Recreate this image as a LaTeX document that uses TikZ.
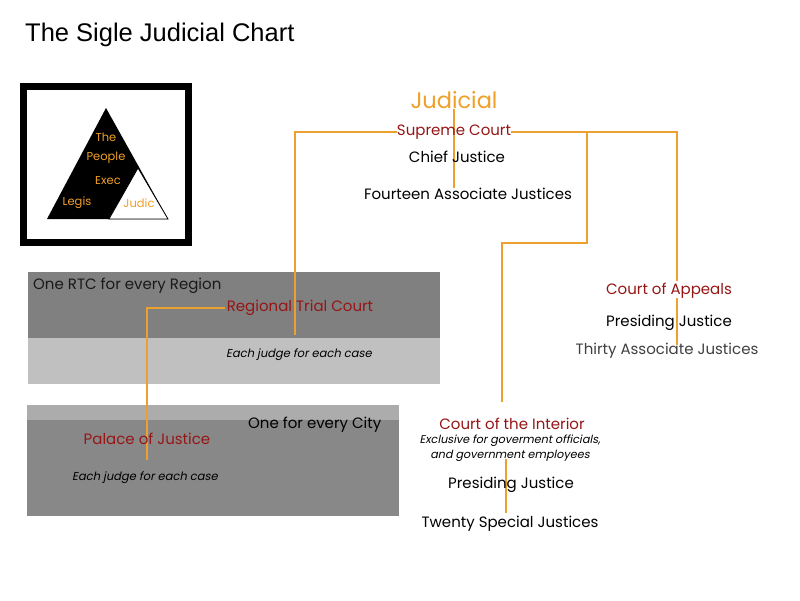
\documentclass[tikz,border=0pt]{standalone}
\usepackage{fontspec}
\setmainfont{Poppins}[AutoFakeSlant]
\newfontfamily\titlefont{Liberation Sans}
\usetikzlibrary{backgrounds}
\definecolor{jorange}{RGB}{240,160,40}
\definecolor{jline}{RGB}{236,160,45}
\definecolor{jred}{RGB}{150,22,22}
\definecolor{boxdark}{RGB}{128,128,128}
\definecolor{boxlight}{RGB}{192,192,192}
\definecolor{boxmid}{RGB}{136,136,136}
\definecolor{boxtop}{RGB}{172,172,172}
\begin{document}
\begin{tikzpicture}[x=1pt,y=-1pt,
  every node/.style={inner sep=0pt},
  court/.style={text=jred, font=\fontsize{15}{17}\selectfont, yshift=-2pt},
  person/.style={text=black, font=\fontsize{15}{17}\selectfont, yshift=-2pt},
  note/.style={text=black, font=\itshape\fontsize{11.5}{13}\selectfont, yshift=-1pt},
  logotxt/.style={text=jorange, font=\fontsize{11.5}{13}\selectfont},
  conn/.style={draw=jline, line width=1.2pt}]
\useasboundingbox (0,0) rectangle (800,600);

% title
\node[anchor=west, font=\titlefont\fontsize{25.5}{30}\selectfont] (title) at (25,35) {The Sigle Judicial Chart};

% logo
\draw[line width=7pt] (23.5,86.5) rectangle (188.5,242.5);
\fill (106,108) -- (47,219) -- (168,219) -- cycle;
\draw[fill=white, line width=0.8pt] (138,168) -- (109,219) -- (168,219) -- cycle;
\node[logotxt] (lthe) at (106,137) {The};
\node[logotxt] (lpeople) at (106,158) {People};
\node[logotxt] (lexec) at (108,181) {Exec};
\node[logotxt] (llegis) at (77,203) {Legis};
\node[logotxt] (ljudic) at (139,203) {Judic};

% nodes
\node[text=jorange, font=\fontsize{22.5}{24}\selectfont, yshift=-1pt] (judicial) at (454,99) {Judicial};
\node[court] (supreme) at (454,130) {Supreme Court};
\node[person] (chief) at (457,155) {Chief Justice};
\node[person] (fourteen) at (468,192) {Fourteen Associate Justices};

\node[anchor=west, text=black!90, font=\fontsize{15}{17}\selectfont, yshift=-2pt] (rtcnote) at (33,284) {One RTC for every Region};
\node[court] (rtc) at (300,306) {Regional Trial Court};
\node[note] (rtccase) at (299,354) {Each judge for each case};

\node[court] (palace) at (147,437) {Palace of Justice};
\node[anchor=west, person] (citynote) at (248,423) {One for every City};
\node[note] (palcase) at (145,477) {Each judge for each case};

\node[court] (appeals) at (669,289) {Court of Appeals};
\node[person] (apppres) at (669,321) {Presiding Justice};
\node[person, text=black!75] (thirty) at (667,349) {Thirty Associate Justices};

\node[court] (interior) at (512,422) {Court of the Interior};
\node[note, align=center, font=\itshape\fontsize{11.2}{15}\selectfont] (excl) at (510,447) {Exclusive for goverment officials,\\and government employees};
\node[person] (intpres) at (511,483) {Presiding Justice};
\node[person] (twenty) at (510,522) {Twenty Special Justices};

% free ends
\coordinate (rtcend) at (295,335);
\coordinate (append) at (677,281);
\coordinate (mx) at (587,0);
\coordinate (mstep) at (587,243);
\coordinate (intend) at (502,402);
\coordinate (rtcleft) at (147,308);
\coordinate (palend) at (147,460);

\begin{pgfonlayer}{background}
  \fill[white] (0,0) rectangle (800,600);
  % grey panels
  \fill[boxdark] (28,272) rectangle (440,338);
  \fill[boxlight] (28,338) rectangle (440,384);
  \fill[boxtop] (27,405) rectangle (399,420);
  \fill[boxmid] (27,420) rectangle (399,516);
  % connectors
  \draw[conn] (judicial.south) -- (judicial.south |- fourteen.north);
  \draw[conn] (supreme.west) -| (rtcend);
  \draw[conn] (supreme.east) -| (append);
  \draw[conn] (supreme.east -| mx) -- (mstep) -| (intend);
  \draw[conn] (677,298) -- (677,345);
  \draw[conn] (rtc.west |- rtcleft) ++(-2,0) -- (rtcleft) -- (palend);
  \draw[conn] (506,459) -- (506 ,513);
\end{pgfonlayer}
\end{tikzpicture}
\end{document}
